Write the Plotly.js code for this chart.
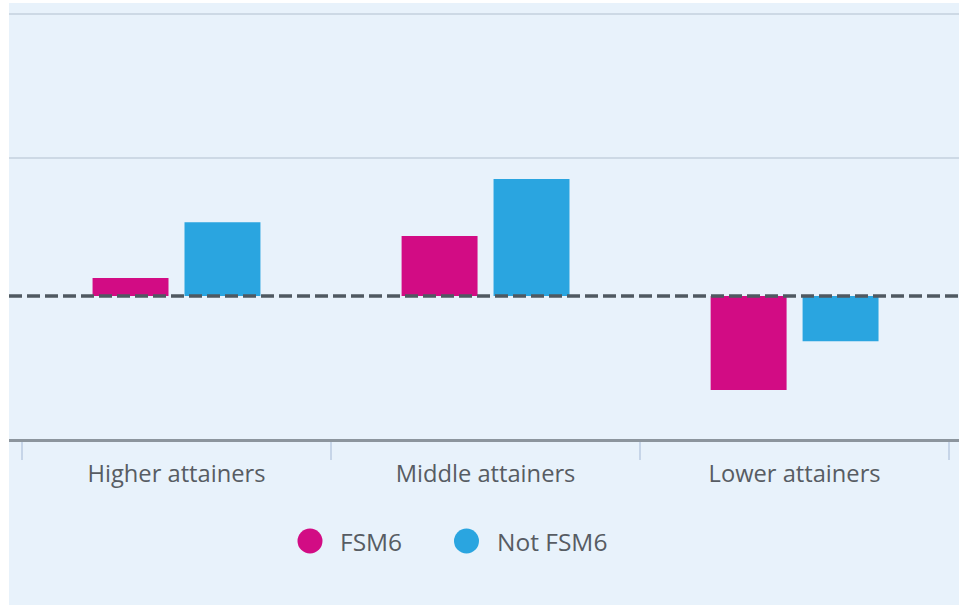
<!DOCTYPE html>
<html>
<head>
<meta charset="utf-8">
<script src="https://cdn.plot.ly/plotly-3.0.1.min.js"></script>
<style>
  html, body { margin: 0; padding: 0; background: #ffffff; }
  #chart { position: absolute; left: 9px; top: 3px; width: 950px; height: 602px; }
</style>
</head>
<body>
<div id="chart"></div>
<script>
// Attainment groups and the change for each pupil group
const categories = ["Higher attainers", "Middle attainers", "Lower attainers"];
const seriesNames = ["FSM6", "Not FSM6"];
const fsm6Values = [0.064, 0.213, -0.333];
const notFsm6Values = [0.262, 0.415, -0.160];
const seriesColors = ["#D20C84", "#2AA5E0"];
const gridValues = [0.49, 1.0];

const W = 950, H = 602;
const margin = { l: 0, r: 0, t: 2, b: 166 };
const plotW = W - margin.l - margin.r;
const plotH = H - margin.t - margin.b;

const textColor = "#575c63";
const fontFamily = "'Open Sans', 'Noto Sans', sans-serif";

const traces = [
  { type: "bar", name: seriesNames[0], x: categories, y: fsm6Values,
    marker: { color: seriesColors[0] }, showlegend: false, hoverinfo: "x+y+name" },
  { type: "bar", name: seriesNames[1], x: categories, y: notFsm6Values,
    marker: { color: seriesColors[1] }, showlegend: false, hoverinfo: "x+y+name" }
];

// Custom legend: large round swatches with labels underneath the axis
const legendY = -(541 - 439) / plotH;
const legendItems = [
  { name: seriesNames[0], color: seriesColors[0], cx: 301, tx: 329 },
  { name: seriesNames[1], color: seriesColors[1], cx: 457.5, tx: 485.5 }
];
const r = 12.5;
const legendShapes = legendItems.map(it => ({
  type: "circle", xref: "paper", yref: "paper",
  xsizemode: "pixel", ysizemode: "pixel",
  xanchor: it.cx / plotW, yanchor: legendY,
  x0: -r, x1: r, y0: -r, y1: r,
  fillcolor: it.color, line: { width: 0 }
}));
const legendLabels = legendItems.map(it => ({
  xref: "paper", yref: "paper", x: it.tx / plotW, y: legendY,
  xanchor: "left", yanchor: "middle", showarrow: false,
  text: it.name, font: { family: fontFamily, size: 24.5, color: textColor }
}));

const layout = {
  width: W, height: H,
  margin: margin,
  paper_bgcolor: "#E8F2FB",
  plot_bgcolor: "rgba(0,0,0,0)",
  barmode: "group",
  bargap: 0.405,
  bargroupgap: 0.174,
  showlegend: false,
  font: { family: fontFamily, size: 23.7, color: textColor },
  xaxis: {
    type: "category",
    range: [-0.542, 2.532],
    showgrid: false,
    zeroline: false,
    showline: true, linecolor: "#8c959d", linewidth: 2.5,
    ticks: "outside", tickson: "boundaries",
    ticklen: 18, tickwidth: 2, tickcolor: "#c6d5e8",
    ticklabelstandoff: 12,
    tickfont: { family: fontFamily, size: 23.7, color: textColor },
    fixedrange: true
  },
  yaxis: {
    range: [-0.507, 1.032],
    tickvals: gridValues,
    showticklabels: false,
    showgrid: true, gridcolor: "#cdd9e5", gridwidth: 2,
    zeroline: false, showline: false,
    fixedrange: true
  },
  shapes: [
    // dashed reference line at zero
    { type: "line", xref: "paper", yref: "y", x0: 0, x1: 1, y0: 0, y1: 0,
      line: { color: "#4f5961", width: 3.5, dash: "13px,5px" }, layer: "above" }
  ].concat(legendShapes),
  annotations: legendLabels
};

Plotly.newPlot("chart", traces, layout, { displayModeBar: false, staticPlot: true });
</script>
</body>
</html>
